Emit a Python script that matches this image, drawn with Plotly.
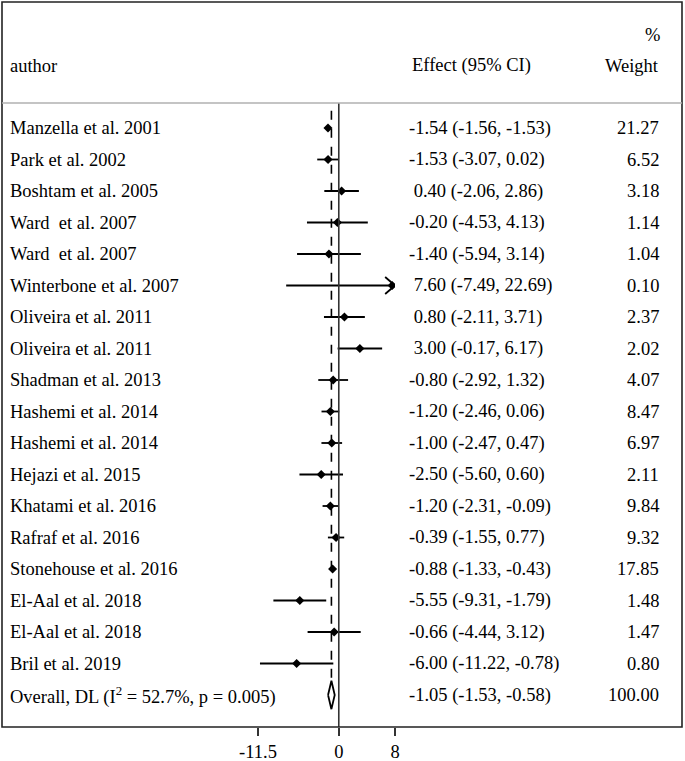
import plotly.graph_objects as go

FONT = "Liberation Serif"
FS = 18.5
W, H = 685, 761

authors = [
    "Manzella et al. 2001", "Park et al. 2002", "Boshtam et al. 2005",
    "Ward  et al. 2007", "Ward  et al. 2007", "Winterbone et al. 2007",
    "Oliveira et al. 2011", "Oliveira et al. 2011", "Shadman et al. 2013",
    "Hashemi et al. 2014", "Hashemi et al. 2014", "Hejazi et al. 2015",
    "Khatami et al. 2016", "Rafraf et al. 2016", "Stonehouse et al. 2016",
    "El-Aal et al. 2018", "El-Aal et al. 2018", "Bril et al. 2019",
]
effect = [-1.54, -1.53, 0.40, -0.20, -1.40, 7.60, 0.80, 3.00, -0.80,
          -1.20, -1.00, -2.50, -1.20, -0.39, -0.88, -5.55, -0.66, -6.00]
ci_low = [-1.56, -3.07, -2.06, -4.53, -5.94, -7.49, -2.11, -0.17, -2.92,
          -2.46, -2.47, -5.60, -2.31, -1.55, -1.33, -9.31, -4.44, -11.22]
ci_high = [-1.53, 0.02, 2.86, 4.13, 3.14, 22.69, 3.71, 6.17, 1.32,
           0.06, 0.47, 0.60, -0.09, 0.77, -0.43, -1.79, 3.12, -0.78]
weight = [21.27, 6.52, 3.18, 1.14, 1.04, 0.10, 2.37, 2.02, 4.07,
          8.47, 6.97, 2.11, 9.84, 9.32, 17.85, 1.48, 1.47, 0.80]

overall_label = "Overall, DL (I<sup>2</sup> = 52.7%, p = 0.005)"
overall_effect, overall_low, overall_high, overall_weight = -1.05, -1.53, -0.58, 100.00

x_ticks = [-11.5, 0, 8]
x_range = [-11.5, 8]


def px_x(p):
    return p / W


def px_y(p):
    return 1 - p / H


n = len(authors)
rows = list(range(n))
overall_row = n

fig = go.Figure()

# CI lines for each study
line_x, line_y = [], []
for i in rows:
    line_x += [ci_low[i], ci_high[i], None]
    line_y += [i, i, None]
fig.add_trace(go.Scatter(x=line_x, y=line_y, mode="lines",
                         line=dict(color="black", width=1.8), hoverinfo="skip"))

# arrow for CIs running past the axis
for i in rows:
    if ci_high[i] > x_range[1]:
        xm = x_range[1]
        fig.add_trace(go.Scatter(x=[xm - 1.4, xm, xm - 1.4], y=[i - 0.27, i, i + 0.27],
                                 mode="lines", line=dict(color="black", width=1.8),
                                 hoverinfo="skip"))

# point estimates
fig.add_trace(go.Scatter(x=effect, y=rows, mode="markers",
                         marker=dict(symbol="diamond", size=7, color="black")))

# overall diamond
h = 0.45
fig.add_trace(go.Scatter(
    x=[overall_low, overall_effect, overall_high, overall_effect, overall_low],
    y=[overall_row, overall_row - h, overall_row, overall_row + h, overall_row],
    mode="lines", line=dict(color="black", width=1.8), hoverinfo="skip"))

# reference lines
fig.add_shape(type="line", xref="x", yref="paper", x0=0, x1=0,
              y0=px_y(727), y1=px_y(103), line=dict(color="#333333", width=1.6))
fig.add_shape(type="line", xref="x", yref="y", x0=overall_effect, x1=overall_effect,
              y0=-0.55, y1=overall_row - h, line=dict(color="black", width=1.6, dash="dash"))

# frame and header rule
fig.add_shape(type="rect", xref="paper", yref="paper", x0=px_x(2), x1=px_x(682),
              y0=px_y(727), y1=px_y(2), line=dict(color="#222222", width=1.6))
fig.add_shape(type="line", xref="paper", yref="paper", x0=px_x(2), x1=px_x(682),
              y0=px_y(103), y1=px_y(103), line=dict(color="#b0b0b0", width=1.5))


def fmt_effect(e, lo, hi):
    s = f"{e:.2f} ({lo:.2f}, {hi:.2f})"
    return s if e < 0 else "\u00a0" + s


ann = []
for i in rows:
    ann.append(dict(x=px_x(8), y=i, xref="paper", yref="y", xanchor="left",
                    text=authors[i].replace(" ", "\u00a0"), showarrow=False))
    ann.append(dict(x=px_x(407), y=i, xref="paper", yref="y", xanchor="left",
                    text=fmt_effect(effect[i], ci_low[i], ci_high[i]), showarrow=False))
    ann.append(dict(x=px_x(661), y=i, xref="paper", yref="y", xanchor="right",
                    text=f"{weight[i]:.2f}", showarrow=False))
ann.append(dict(x=px_x(8), y=overall_row, xref="paper", yref="y", xanchor="left",
                text=overall_label, showarrow=False))
ann.append(dict(x=px_x(407), y=overall_row, xref="paper", yref="y", xanchor="left",
                text=fmt_effect(overall_effect, overall_low, overall_high), showarrow=False))
ann.append(dict(x=px_x(661), y=overall_row, xref="paper", yref="y", xanchor="right",
                text=f"{overall_weight:.2f}", showarrow=False))

# header
ann.append(dict(x=px_x(8), y=px_y(66), xref="paper", yref="paper", xanchor="left",
                yanchor="middle", text="author", showarrow=False))
ann.append(dict(x=px_x(410), y=px_y(66), xref="paper", yref="paper", xanchor="left",
                yanchor="middle", text="Effect (95% CI)", showarrow=False))
ann.append(dict(x=px_x(662), y=px_y(35), xref="paper", yref="paper", xanchor="right",
                yanchor="middle", text="%", showarrow=False))
ann.append(dict(x=px_x(661), y=px_y(66), xref="paper", yref="paper", xanchor="right",
                yanchor="middle", text="Weight", showarrow=False))

top_row = (103 - 128) / 31.5
bottom_row = (727 - 128) / 31.5

fig.update_layout(
    width=W, height=H,
    autosize=False,
    margin=dict(l=0, r=0, t=0, b=0, pad=0, autoexpand=False),
    paper_bgcolor="white", plot_bgcolor="white",
    showlegend=False,
    font=dict(family=FONT, size=FS, color="black"),
    annotations=ann,
    xaxis=dict(domain=[px_x(258), px_x(395)], range=x_range, tickvals=x_ticks,
               ticktext=[f"{t:g}" for t in x_ticks], ticks="outside", ticklen=8,
               tickwidth=1.5, tickcolor="#333333", showgrid=False, zeroline=False,
               showline=False, automargin=False,
               tickfont=dict(family=FONT, size=FS, color="black")),
    yaxis=dict(domain=[px_y(727), px_y(103)], range=[bottom_row, top_row],
               visible=False, showgrid=False, zeroline=False, automargin=False),
)

fig.write_html(
    "out.html",
    config={"displayModeBar": False},
    post_script="document.body.style.margin='0';document.body.style.overflow='hidden';",
)
